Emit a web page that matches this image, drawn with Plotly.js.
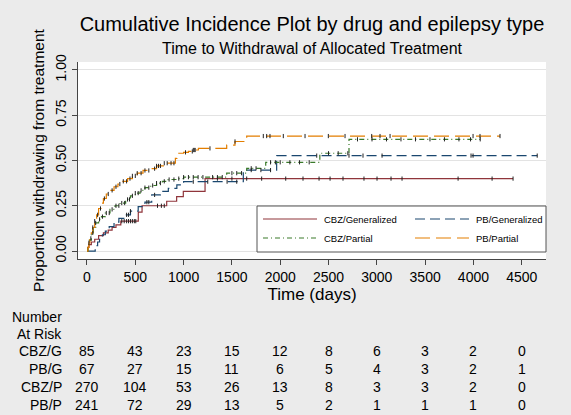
<!DOCTYPE html>
<html>
<head>
<meta charset="utf-8">
<script src="https://cdn.plot.ly/plotly-3.0.1.min.js"></script>
<style>html,body{margin:0;padding:0;background:#EBEBEB;}#chart{width:571px;height:415px;}</style>
</head>
<body>
<div id="chart"></div>
<script>
// ---- data ----
const seriesNames = ["CBZ/Generalized", "PB/Generalized", "CBZ/Partial", "PB/Partial"];
const shortNames = ["CBZ/G", "PB/G", "CBZ/P", "PB/P"];

const timeCBZG = [0, 8, 20, 45, 80, 120, 170, 220, 260, 300, 350, 531, 570, 825, 928, 997, 1222, 4410];
const cumCBZG  = [0, 0.02, 0.035, 0.05, 0.065, 0.085, 0.10, 0.115, 0.13, 0.145, 0.165, 0.215, 0.25, 0.275, 0.30, 0.33, 0.40, 0.40];
const censorCBZG = [360, 385, 410, 430, 450, 470, 490, 505, 730, 770, 800, 1350, 1500, 1653, 1808, 2057, 2236, 2402, 2516, 2650, 2867, 3002, 3147, 3261, 3841, 4193, 4410];

const timePBG = [0, 85, 95, 110, 130, 160, 190, 230, 280, 330, 390, 450, 530, 600, 670, 760, 842, 930, 1000, 1618, 1963, 4660];
const cumPBG  = [0, 0.015, 0.03, 0.05, 0.065, 0.09, 0.11, 0.135, 0.16, 0.18, 0.20, 0.22, 0.245, 0.27, 0.31, 0.33, 0.346, 0.365, 0.383, 0.447, 0.527, 0.527];
const censorPBG = [410, 430, 450, 620, 640, 700, 1100, 1250, 1450, 1550, 1700, 1800, 1900, 2378, 2712, 2857, 3054, 3975, 3996, 4660];

const timeCBZP = [0, 10, 25, 45, 65, 90, 120, 150, 190, 238, 290, 342, 400, 450, 500, 550, 600, 660, 720, 780, 840, 920, 1000, 1446, 1653, 1850, 2410, 2712, 4070];
const cumCBZP  = [0, 0.03, 0.06, 0.10, 0.13, 0.155, 0.175, 0.19, 0.21, 0.23, 0.25, 0.265, 0.285, 0.305, 0.32, 0.335, 0.35, 0.362, 0.375, 0.385, 0.395, 0.40, 0.408, 0.43, 0.457, 0.49, 0.54, 0.617, 0.617];
const censorCBZP = [60, 90, 130, 160, 200, 230, 260, 300, 330, 360, 390, 420, 440, 470, 500, 530, 560, 600, 640, 680, 720, 760, 800, 850, 900, 950, 1000, 1050, 1100, 1150, 1200, 1300, 1350, 1400, 1500, 1550, 1600, 1700, 1750, 1900, 1950, 2000, 2100, 2200, 2300, 2500, 2600, 2700, 2800, 2950, 3100, 3250, 3400, 3550, 3700, 3850, 3970, 4070];

const timePBP = [0, 10, 20, 30, 45, 60, 80, 100, 120, 145, 170, 200, 240, 280, 320, 370, 420, 470, 520, 580, 650, 720, 790, 915, 930, 1000, 1050, 1100, 1153, 1446, 1532, 1653, 4275];
const cumPBP  = [0, 0.02, 0.045, 0.07, 0.10, 0.13, 0.165, 0.20, 0.235, 0.265, 0.29, 0.315, 0.335, 0.355, 0.37, 0.385, 0.40, 0.415, 0.43, 0.445, 0.455, 0.47, 0.485, 0.512, 0.54, 0.545, 0.55, 0.558, 0.567, 0.585, 0.605, 0.635, 0.635];
const censorPBP = [20, 40, 60, 80, 110, 140, 180, 220, 260, 300, 340, 376, 410, 445, 470, 500, 520, 560, 600, 640, 700, 720, 740, 760, 800, 830, 870, 900, 1020, 1090, 1100, 1110, 1120, 1273, 1532, 1825, 1860, 1894, 2032, 2257, 2498, 2671, 2947, 3033, 3137, 3996, 4068, 4275];

const riskTimes = [0, 500, 1000, 1500, 2000, 2500, 3000, 3500, 4000, 4500];
const riskCBZG = [85, 43, 23, 15, 12, 8, 6, 3, 2, 0];
const riskPBG  = [67, 27, 15, 11, 6, 5, 4, 3, 2, 1];
const riskCBZP = [270, 104, 53, 26, 13, 8, 3, 3, 2, 0];
const riskPBP  = [241, 72, 29, 13, 5, 2, 1, 1, 1, 0];

const yTicks = [0, 0.25, 0.5, 0.75, 1];
const xTicks = [0, 500, 1000, 1500, 2000, 2500, 3000, 3500, 4000, 4500];

// ---- styling ----
const FONT = "Liberation Sans, Arial, sans-serif";
const colors = ["#90353B", "#1A476F", "#3A7A2A", "#E37E00"];
const dashes = ["solid", "10px,5px", "5px,3px,1px,3px", "15px,6px"];
const W = 571, H = 415, M = {l: 78, r: 25, t: 62, b: 156};
const pw = W - M.l - M.r, ph = H - M.t - M.b;
const px = x => (x - M.l) / pw;
const py = y => (H - M.b - y) / ph;

const times = [timeCBZG, timePBG, timeCBZP, timePBP];
const cums = [cumCBZG, cumPBG, cumCBZP, cumPBP];
const censors = [censorCBZG, censorPBG, censorCBZP, censorPBP];
const risks = [riskCBZG, riskPBG, riskCBZP, riskPBP];

function stepAt(t, v, T) {
  let val = v[0];
  for (let i = 0; i < t.length; i++) { if (t[i] <= T) val = v[i]; }
  return val;
}

const traces = [];
for (let k = 0; k < 4; k++) {
  traces.push({
    type: "scatter", mode: "lines", name: seriesNames[k],
    x: times[k], y: cums[k], line: {shape: "hv", color: colors[k], width: 1.2, dash: dashes[k]},
    showlegend: false, hoverinfo: "skip"
  });
}
for (let k = 0; k < 4; k++) {
  traces.push({
    type: "scatter", mode: "markers", name: seriesNames[k] + " censored",
    x: censors[k], y: censors[k].map(T => stepAt(times[k], cums[k], T)),
    marker: {symbol: "line-ns", size: 3, line: {width: 1, color: "#222"}},
    showlegend: false, hoverinfo: "skip"
  });
}

const annotations = [];
// subtitle
annotations.push({xref: "paper", yref: "paper", x: 0.5, y: py(49), xanchor: "center", yanchor: "middle",
  text: "Time to Withdrawal of Allocated Treatment", showarrow: false, font: {family: FONT, size: 16, color: "#000"}});
// at risk header
annotations.push({xref: "paper", yref: "paper", x: px(64), y: py(317), xanchor: "right", yanchor: "middle",
  text: "Number", showarrow: false, font: {family: FONT, size: 14, color: "#000"}});
annotations.push({xref: "paper", yref: "paper", x: px(64), y: py(334), xanchor: "right", yanchor: "middle",
  text: "At Risk", showarrow: false, font: {family: FONT, size: 14, color: "#000"}});
const rowY = [351, 369, 387, 405];
for (let k = 0; k < 4; k++) {
  annotations.push({xref: "paper", yref: "paper", x: px(64), y: py(rowY[k]), xanchor: "right", yanchor: "middle",
    text: shortNames[k], showarrow: false, font: {family: FONT, size: 14, color: "#000"}});
  for (let i = 0; i < riskTimes.length; i++) {
    annotations.push({xref: "x", yref: "paper", x: riskTimes[i], y: py(rowY[k]), xanchor: "center", yanchor: "middle",
      text: String(risks[k][i]), showarrow: false, font: {family: FONT, size: 14, color: "#000"}});
  }
}

// legend (box + samples + labels)
const shapes = [];
shapes.push({type: "rect", xref: "paper", yref: "paper", x0: px(257), x1: px(546), y0: py(252), y1: py(206),
  line: {color: "#555", width: 1}, fillcolor: "#fff", layer: "above"});
const legPos = [[263, 219], [415, 219], [263, 238], [415, 238]];
for (let k = 0; k < 4; k++) {
  const [lx, ly] = legPos[k];
  shapes.push({type: "line", xref: "paper", yref: "paper", x0: px(lx), x1: px(lx + 54), y0: py(ly), y1: py(ly),
    line: {color: colors[k], width: 1.2, dash: dashes[k]}, layer: "above"});
  annotations.push({xref: "paper", yref: "paper", x: px(lx + 59), y: py(ly), xanchor: "left", yanchor: "middle",
    text: seriesNames[k], showarrow: false, font: {family: FONT, size: 9.5, color: "#000"}});
}

const layout = {
  width: W, height: H,
  margin: {l: M.l, r: M.r, t: M.t, b: M.b, pad: 0},
  paper_bgcolor: "#EBEBEB", plot_bgcolor: "#FFFFFF",
  font: {family: FONT, color: "#000"},
  title: {text: "Cumulative Incidence Plot by drug and epilepsy type", font: {family: FONT, size: 20, color: "#000"},
    x: 0.5, xref: "paper", xanchor: "center", y: 1 - 24 / H, yref: "container", yanchor: "middle"},
  xaxis: {range: [-93, 4751], tickvals: xTicks, ticktext: xTicks.map(String), showgrid: false, zeroline: false,
    showline: true, linecolor: "#444", linewidth: 1, ticks: "outside", ticklen: 5, tickcolor: "#444",
    tickfont: {family: FONT, size: 14, color: "#000"},
    title: {text: "Time (days)", font: {family: FONT, size: 17, color: "#000"}, standoff: 0}},
  yaxis: {range: [-0.044, 1.044], tickvals: yTicks, ticktext: yTicks.map(v => v.toFixed(2)), tickangle: -90,
    showgrid: true, gridcolor: "#E3E3E3", gridwidth: 1, zeroline: false,
    showline: true, linecolor: "#444", linewidth: 1, ticks: "outside", ticklen: 5, tickcolor: "#444",
    tickfont: {family: FONT, size: 14, color: "#000"},
    title: {text: "Proportion withdrawing from treatment", font: {family: FONT, size: 15.5, color: "#000"}, standoff: 4}},
  annotations: annotations,
  shapes: shapes,
  showlegend: false
};

Plotly.newPlot("chart", traces, layout, {displayModeBar: false, staticPlot: true});
</script>
</body>
</html>
